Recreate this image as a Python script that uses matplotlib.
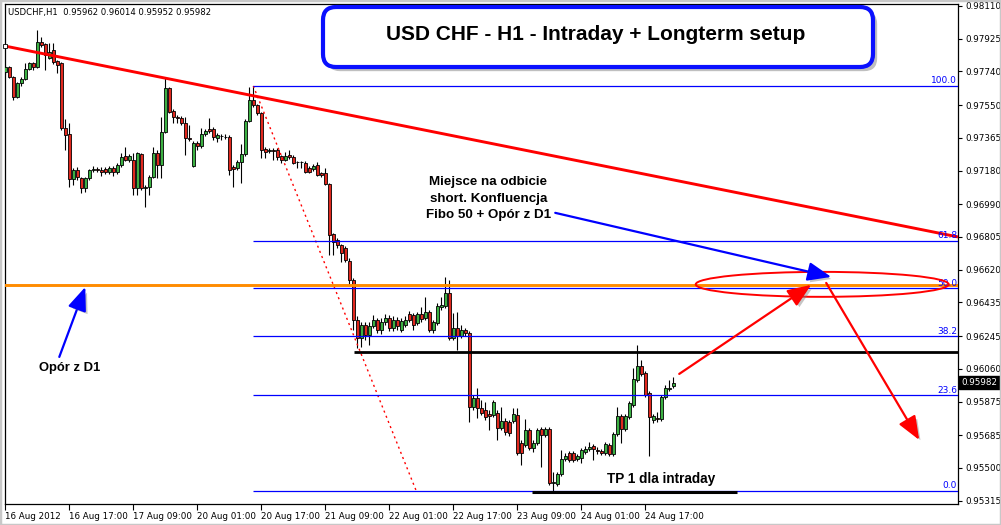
import matplotlib
matplotlib.use("Agg")
import matplotlib.pyplot as plt
import matplotlib.patheffects as pe
import numpy as np
from matplotlib.patches import Ellipse, FancyArrowPatch, FancyBboxPatch, Rectangle

HEADER = "USDCHF,H1  0.95962 0.96014 0.95952 0.95982"
TITLE = "USD CHF - H1 - Intraday + Longterm setup"

# H1 candles (bar 0 = 16 Aug 2012 first bar)
OPEN = [
    0.97737, 0.97765, 0.97709, 0.97596, 0.97675, 0.97698, 0.97754, 0.97788, 0.97765, 0.97907,
    0.97895, 0.97816, 0.97862, 0.97799, 0.97788, 0.97421, 0.97387, 0.97133, 0.97184, 0.97138,
    0.97082, 0.97138, 0.97184, 0.97189, 0.97184, 0.97189, 0.97172, 0.97195, 0.97172, 0.97212,
    0.97263, 0.97240, 0.97240, 0.97082, 0.97274, 0.97082, 0.97087, 0.97144, 0.97280, 0.97212,
    0.97398, 0.97647, 0.97517, 0.97483, 0.97477, 0.97449, 0.97364, 0.97206, 0.97336, 0.97319,
    0.97387, 0.97415, 0.97415, 0.97364, 0.97376, 0.97370, 0.97370, 0.97200, 0.97195, 0.97229,
    0.97274, 0.97460, 0.97579, 0.97551, 0.97506, 0.97302, 0.97291, 0.97297, 0.97297, 0.97263,
    0.97240, 0.97268, 0.97257, 0.97229, 0.97229, 0.97223, 0.97195, 0.97189, 0.97212, 0.97167,
    0.97167, 0.97104, 0.96822, 0.96788, 0.96760, 0.96743, 0.96669, 0.96562, 0.96336, 0.96234,
    0.96308, 0.96251, 0.96302, 0.96336, 0.96280, 0.96325, 0.96347, 0.96291, 0.96336, 0.96280,
    0.96308, 0.96370, 0.96364, 0.96319, 0.96370, 0.96347, 0.96381, 0.96280, 0.96319, 0.96409,
    0.96415, 0.96489, 0.96234, 0.96291, 0.96246, 0.96280, 0.96263, 0.95844, 0.95895, 0.95839,
    0.95828, 0.95805, 0.95799, 0.95811, 0.95726, 0.95765, 0.95760, 0.95765, 0.95799, 0.95641,
    0.95630, 0.95715, 0.95613, 0.95641, 0.95720, 0.95686, 0.95720, 0.95415, 0.95410, 0.95466,
    0.95551, 0.95585, 0.95585, 0.95551, 0.95556, 0.95590, 0.95607, 0.95624, 0.95602, 0.95596,
    0.95585, 0.95630, 0.95579, 0.95692, 0.95794, 0.95720, 0.95788, 0.95856, 0.95997, 0.96076,
    0.96037, 0.95924, 0.95771, 0.95782, 0.95777, 0.95901, 0.95946, 0.95962,
]
HIGH = [
    0.97777, 0.97771, 0.97715, 0.97681, 0.97709, 0.97788, 0.97794, 0.97794, 0.97975, 0.97935,
    0.97901, 0.97901, 0.97901, 0.97805, 0.97794, 0.97472, 0.97449, 0.97195, 0.97200, 0.97144,
    0.97144, 0.97189, 0.97206, 0.97200, 0.97200, 0.97200, 0.97206, 0.97206, 0.97223, 0.97280,
    0.97313, 0.97274, 0.97280, 0.97285, 0.97280, 0.97099, 0.97155, 0.97313, 0.97297, 0.97483,
    0.97709, 0.97652, 0.97528, 0.97494, 0.97489, 0.97483, 0.97438, 0.97347, 0.97347, 0.97421,
    0.97415, 0.97477, 0.97426, 0.97393, 0.97387, 0.97387, 0.97381, 0.97212, 0.97240, 0.97330,
    0.97472, 0.97652, 0.97658, 0.97556, 0.97511, 0.97313, 0.97308, 0.97308, 0.97308, 0.97268,
    0.97285, 0.97297, 0.97268, 0.97234, 0.97234, 0.97234, 0.97206, 0.97217, 0.97229, 0.97172,
    0.97195, 0.97110, 0.96828, 0.96799, 0.96765, 0.96754, 0.96686, 0.96573, 0.96359, 0.96325,
    0.96325, 0.96325, 0.96364, 0.96347, 0.96347, 0.96370, 0.96364, 0.96359, 0.96353, 0.96347,
    0.96359, 0.96387, 0.96376, 0.96381, 0.96409, 0.96466, 0.96393, 0.96336, 0.96432, 0.96466,
    0.96579, 0.96562, 0.96376, 0.96381, 0.96308, 0.96291, 0.96274, 0.95912, 0.95952, 0.95884,
    0.95873, 0.95828, 0.95884, 0.95828, 0.95844, 0.95782, 0.95771, 0.95839, 0.95839, 0.95658,
    0.95777, 0.95726, 0.95658, 0.95726, 0.95731, 0.95731, 0.95731, 0.95477, 0.95477, 0.95602,
    0.95585, 0.95596, 0.95596, 0.95579, 0.95613, 0.95624, 0.95647, 0.95635, 0.95618, 0.95607,
    0.95647, 0.95641, 0.95703, 0.95844, 0.95805, 0.95805, 0.95878, 0.96065, 0.96195, 0.96110,
    0.96048, 0.95935, 0.95805, 0.95816, 0.95912, 0.95969, 0.95997, 0.96014,
]
LOW = [
    0.97726, 0.97703, 0.97579, 0.97590, 0.97658, 0.97692, 0.97749, 0.97749, 0.97760, 0.97878,
    0.97749, 0.97811, 0.97782, 0.97732, 0.97410, 0.97297, 0.97087, 0.97099, 0.97127, 0.97054,
    0.97059, 0.97127, 0.97172, 0.97172, 0.97150, 0.97161, 0.97161, 0.97150, 0.97161, 0.97200,
    0.97234, 0.97229, 0.97042, 0.97042, 0.97071, 0.96974, 0.97042, 0.97138, 0.97138, 0.97138,
    0.97393, 0.97506, 0.97449, 0.97449, 0.97438, 0.97268, 0.97347, 0.97200, 0.97297, 0.97308,
    0.97376, 0.97393, 0.97353, 0.97342, 0.97353, 0.97359, 0.97155, 0.97087, 0.97184, 0.97110,
    0.97263, 0.97455, 0.97539, 0.97494, 0.97251, 0.97251, 0.97280, 0.97240, 0.97240, 0.97223,
    0.97234, 0.97246, 0.97217, 0.97195, 0.97195, 0.97167, 0.97167, 0.97178, 0.97150, 0.97144,
    0.97099, 0.96703, 0.96703, 0.96743, 0.96664, 0.96664, 0.96534, 0.96280, 0.96178, 0.96183,
    0.96223, 0.96195, 0.96291, 0.96263, 0.96257, 0.96308, 0.96274, 0.96274, 0.96280, 0.96268,
    0.96296, 0.96325, 0.96280, 0.96308, 0.96325, 0.96336, 0.96268, 0.96263, 0.96308, 0.96393,
    0.96404, 0.96223, 0.96223, 0.96167, 0.96234, 0.96246, 0.95760, 0.95828, 0.95782, 0.95799,
    0.95771, 0.95715, 0.95788, 0.95658, 0.95715, 0.95686, 0.95681, 0.95754, 0.95573, 0.95517,
    0.95618, 0.95602, 0.95590, 0.95630, 0.95505, 0.95675, 0.95404, 0.95370, 0.95398, 0.95455,
    0.95539, 0.95534, 0.95534, 0.95539, 0.95528, 0.95579, 0.95596, 0.95545, 0.95579, 0.95573,
    0.95573, 0.95568, 0.95568, 0.95681, 0.95641, 0.95709, 0.95777, 0.95844, 0.95986, 0.96020,
    0.95901, 0.95568, 0.95754, 0.95760, 0.95765, 0.95890, 0.95935, 0.95952,
]
CLOSE = [
    0.97765, 0.97709, 0.97596, 0.97675, 0.97698, 0.97754, 0.97788, 0.97765, 0.97907, 0.97890,
    0.97833, 0.97850, 0.97794, 0.97777, 0.97421, 0.97381, 0.97133, 0.97184, 0.97144, 0.97082,
    0.97138, 0.97184, 0.97189, 0.97184, 0.97172, 0.97172, 0.97195, 0.97172, 0.97212, 0.97257,
    0.97240, 0.97263, 0.97082, 0.97280, 0.97082, 0.97087, 0.97144, 0.97280, 0.97212, 0.97398,
    0.97647, 0.97511, 0.97483, 0.97477, 0.97449, 0.97364, 0.97359, 0.97336, 0.97319, 0.97387,
    0.97404, 0.97404, 0.97370, 0.97381, 0.97373, 0.97368, 0.97184, 0.97189, 0.97229, 0.97274,
    0.97460, 0.97579, 0.97551, 0.97506, 0.97297, 0.97285, 0.97297, 0.97291, 0.97257, 0.97240,
    0.97263, 0.97257, 0.97223, 0.97227, 0.97231, 0.97172, 0.97172, 0.97206, 0.97155, 0.97155,
    0.97104, 0.96816, 0.96777, 0.96760, 0.96715, 0.96675, 0.96562, 0.96336, 0.96234, 0.96308,
    0.96251, 0.96302, 0.96336, 0.96280, 0.96325, 0.96347, 0.96291, 0.96336, 0.96302, 0.96330,
    0.96336, 0.96336, 0.96308, 0.96370, 0.96342, 0.96381, 0.96280, 0.96325, 0.96415, 0.96421,
    0.96489, 0.96234, 0.96291, 0.96246, 0.96280, 0.96263, 0.95844, 0.95895, 0.95839, 0.95811,
    0.95788, 0.95794, 0.95873, 0.95726, 0.95765, 0.95703, 0.95698, 0.95805, 0.95585, 0.95585,
    0.95715, 0.95613, 0.95641, 0.95715, 0.95686, 0.95720, 0.95415, 0.95421, 0.95466, 0.95551,
    0.95568, 0.95545, 0.95545, 0.95568, 0.95602, 0.95607, 0.95618, 0.95607, 0.95596, 0.95585,
    0.95635, 0.95579, 0.95692, 0.95794, 0.95720, 0.95794, 0.95867, 0.96003, 0.96076, 0.96031,
    0.95912, 0.95788, 0.95794, 0.95777, 0.95901, 0.95952, 0.95952, 0.95982,
]

TIME_TICKS = [0, 16, 32, 48, 64, 80, 96, 112, 128, 144, 160]
TIME_LABELS = [
    "16 Aug 2012", "16 Aug 17:00", "17 Aug 09:00", "20 Aug 01:00", "20 Aug 17:00",
    "21 Aug 09:00", "22 Aug 01:00", "22 Aug 17:00", "23 Aug 09:00", "24 Aug 01:00",
    "24 Aug 17:00",
]
PRICE_TICKS = [
    0.98110, 0.97925, 0.97740, 0.97550, 0.97365, 0.97180, 0.96990, 0.96805,
    0.96620, 0.96435, 0.96245, 0.96060, 0.95875, 0.95685, 0.95500, 0.95315,
]

# drawn objects
TREND_LINE = [(-0.2, 0.97884), (238.2, 0.96805)]
FIB_ANCHORS = [(62, 0.97658), (102.75, 0.95370)]
FIB_LEVELS = [100.0, 61.8, 50.0, 38.2, 23.6, 0.0]
D1_RESISTANCE = 0.96534
INTRADAY_LEVEL = (87.25, 0.96155)
TP1_LINE = (131.75, 183.0, 0.95364)
ZONE = (204.25, 0.96537, 63.25, 0.00141)

NOTE_ZONE = "Miejsce na odbicie\nshort. Konfluencja\nFibo 50 + Opór z D1"
NOTE_D1 = "Opór z D1"
NOTE_TP = "TP 1 dla intraday"

GREEN = "#3cb043"
RED = "#e0281e"

fig = plt.figure(figsize=(10.01, 5.25), dpi=100, facecolor="white")
ax = fig.add_axes([4.5 / 1001, 21 / 525, 953.5 / 1001, 500 / 525])
ax.set_xlim(-0.2, 238.2)
ax.set_ylim(0.95296, 0.98121)

x = np.arange(len(OPEN))
o, h, l, c = (np.array(a) for a in (OPEN, HIGH, LOW, CLOSE))
up = c >= o
body_low = np.minimum(o, c)
body_h = np.maximum(np.abs(c - o), 0.000015)
ax.vlines(x, l, h, color="black", lw=0.8, zorder=2)
ax.bar(x[up], body_h[up], bottom=body_low[up], width=0.8, color=GREEN,
       edgecolor="black", lw=0.6, zorder=3)
ax.bar(x[~up], body_h[~up], bottom=body_low[~up], width=0.8, color=RED,
       edgecolor="black", lw=0.6, zorder=3)

# fibonacci retracement
(fx0, fhi), (fx1, flo) = FIB_ANCHORS
ax.plot([fx0, fx1], [fhi, flo], color="red", lw=1, ls=(0, (1.5, 2.5)), zorder=4)
for lvl in FIB_LEVELS:
    p = flo + (fhi - flo) * lvl / 100
    ax.hlines(p, fx0, 238.2, color="#0000ff", lw=0.9, zorder=4)
    ax.text(0.999, p + 0.00003, f"{lvl:.1f}", transform=ax.get_yaxis_transform(),
            ha="right", va="bottom", color="#0000ff", fontsize=6.5, zorder=6)

# horizontal levels and trend line
ax.axhline(D1_RESISTANCE, color="#ff8c00", lw=2.1, zorder=5)
ax.hlines(INTRADAY_LEVEL[1], INTRADAY_LEVEL[0], 238.2, color="black", lw=2.0, zorder=5)
ax.hlines(TP1_LINE[2], TP1_LINE[0], TP1_LINE[1], color="black", lw=2.2, zorder=5)
(tx0, ty0), (tx1, ty1) = TREND_LINE
ax.plot([tx0, tx1], [ty0, ty1], color="#ff0000", lw=2.1, zorder=5, solid_capstyle="butt")
ax.plot([tx0 + 0.2], [ty0], marker="s", ms=3.5, mfc="white", mec="black", mew=0.6,
        zorder=6, clip_on=False)

ax.add_patch(Ellipse(ZONE[:2], ZONE[2], ZONE[3], fill=False, ec="#ff0000", lw=1.4, zorder=6))

shadow = [pe.SimplePatchShadow(offset=(2, -2), shadow_rgbFace="gray", alpha=0.45), pe.Normal()]
arrows = [
    ((137.5, 0.96941), (206.5, 0.96579), "#0000ff"),
    ((13.5, 0.96127), (20.0, 0.96522), "#0000ff"),
    ((168.5, 0.96031), (201.5, 0.96534), "#ff0000"),
    ((205.25, 0.96545), (228.5, 0.95658), "#ff0000"),
]
for start, end, col in arrows:
    ax.add_patch(FancyArrowPatch(start, end, arrowstyle="-|>,head_length=0.8,head_width=0.32",
                                 mutation_scale=18, color=col, lw=1.6, shrinkA=0, shrinkB=0,
                                 zorder=7, path_effects=shadow))

txt = dict(fontfamily="Liberation Sans", fontweight="bold", color="black", zorder=8)
ax.text(120.75, 0.97020, NOTE_ZONE, ha="center", va="center", fontsize=9.6,
        linespacing=1.5, **txt)
ax.text(16.1, 0.96065, NOTE_D1, ha="center", va="center", fontsize=9.4, **txt)
ax.text(164.0, 0.95438, NOTE_TP, ha="center", va="center", fontsize=9.8, **txt)

# axes styling
for s in ax.spines.values():
    s.set_color("black")
    s.set_linewidth(0.9)
ax.yaxis.tick_right()
ax.set_yticks(PRICE_TICKS)
ax.set_yticklabels([f"{v:.5f}" for v in PRICE_TICKS])
ax.set_xticks(TIME_TICKS)
ax.set_xticklabels(TIME_LABELS)
for lab in ax.get_xticklabels():
    lab.set_horizontalalignment("left")
ax.tick_params(axis="y", direction="out", length=3, width=0.8, pad=2, labelsize=6.3)
ax.tick_params(axis="x", direction="out", length=4, width=0.8, pad=1.5, labelsize=6.3)

ax.annotate(f"{CLOSE[-1]:.5f}", xy=(1, CLOSE[-1]), xycoords=("axes fraction", "data"),
            xytext=(2.5, 0), textcoords="offset points", ha="left", va="center",
            color="white", fontsize=6.3, annotation_clip=False,
            bbox=dict(boxstyle="square,pad=0.25", fc="black", ec="black"))

fig.text(8 / 1001, 1 - 13 / 525, HEADER, ha="left", va="center", fontsize=6.1)

title_box = FancyBboxPatch((3.23, 4.58), 5.50, 0.60, boxstyle="round,pad=0,rounding_size=0.13",
                           transform=fig.dpi_scale_trans, fc="white", ec="#0a10ff", lw=3,
                           path_effects=[pe.SimplePatchShadow(offset=(3, -3), shadow_rgbFace="gray",
                                                              alpha=0.5), pe.Normal()])
fig.add_artist(title_box)
fig.text(596 / 1001, 1 - 34 / 525, TITLE, ha="center", va="center", fontsize=15,
         fontfamily="Liberation Sans", fontweight="bold")

fig.add_artist(Rectangle((0, 0), 1, 1, transform=fig.transFigure, fill=False,
                         ec="#c8c8c8", lw=2.5))

fig.savefig("out.png", dpi=100)
